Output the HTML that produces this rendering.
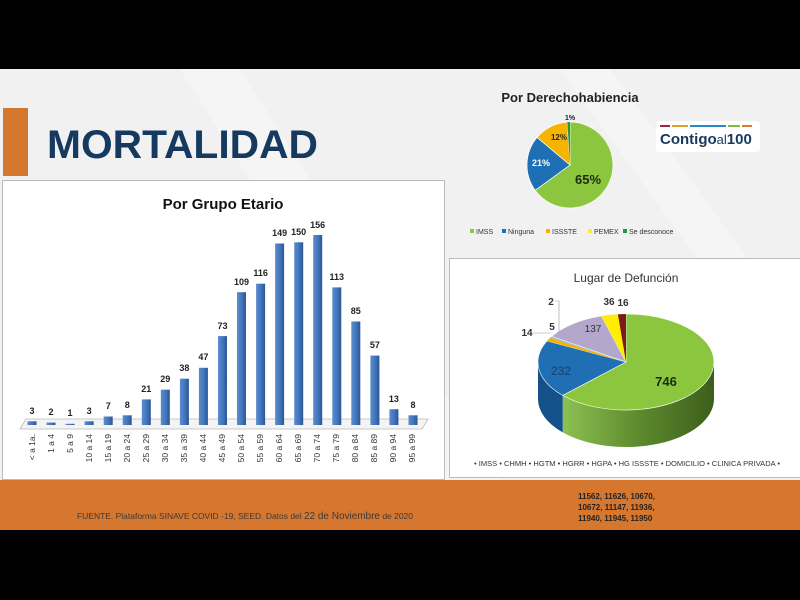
<!DOCTYPE html>
<html><head><meta charset="utf-8"><style>
html,body{margin:0;padding:0;width:800px;height:600px;overflow:hidden;background:#000;font-family:"Liberation Sans",sans-serif}
</style></head><body>
<svg width="800" height="600" xmlns="http://www.w3.org/2000/svg" font-family="Liberation Sans, sans-serif">
<defs>
<linearGradient id="bar" x1="0" x2="1"><stop offset="0" stop-color="#5a8ed0"/><stop offset="0.6" stop-color="#3f72b8"/><stop offset="1" stop-color="#2b5590"/></linearGradient>
<linearGradient id="gs" x1="0" x2="1"><stop offset="0" stop-color="#8cc152"/><stop offset="0.5" stop-color="#5e8a2e"/><stop offset="1" stop-color="#3d5e1c"/></linearGradient>
</defs>
<rect x="0" y="69" width="800" height="461" fill="#f1f1f1"/>
<polygon points="180,69 240,69 500,480 440,480" fill="#f5f5f5"/>
<polygon points="560,69 610,69 800,330 800,400" fill="#f5f5f5"/>
<!-- orange footer -->
<rect x="0" y="480" width="800" height="50" fill="#d6772f"/>
<text x="77" y="519" font-size="8.5" fill="#3a3a3a" textLength="336" lengthAdjust="spacingAndGlyphs">FUENTE. Plataforma SINAVE COVID -19, SEED. Datos del <tspan font-size="10">22 de Noviembre</tspan> de 2020</text>
<g font-size="8" font-weight="bold" fill="#222">
<text x="578" y="499">11562, 11626, 10670,</text>
<text x="578" y="510">10672, 11147, 11936,</text>
<text x="578" y="521">11940, 11945, 11950</text>
</g>
<!-- title -->
<rect x="3" y="108" width="25" height="68" fill="#d6772f"/>
<text x="47" y="158" font-size="40" font-weight="bold" fill="#15395f" textLength="271" lengthAdjust="spacingAndGlyphs">MORTALIDAD</text>
<!-- bar chart box -->
<rect x="2.5" y="180.5" width="442" height="299" fill="#fff" stroke="#bbb"/>
<text x="223" y="209" font-size="15" font-weight="bold" text-anchor="middle" fill="#111">Por Grupo Etario</text>
<polygon points="26,419 428,419 422,429 20,429" fill="#f4f4f4" stroke="#bbb" stroke-width="0.8"/>
<g fill="url(#bar)">
<rect x="27.5" y="421.3" width="9" height="3.7"/>
<rect x="46.5" y="422.6" width="9" height="2.4"/>
<rect x="65.5" y="423.8" width="9" height="1.2"/>
<rect x="84.6" y="421.3" width="9" height="3.7"/>
<rect x="103.7" y="416.5" width="9" height="8.5"/>
<rect x="122.7" y="415.3" width="9" height="9.7"/>
<rect x="141.8" y="399.4" width="9" height="25.6"/>
<rect x="160.8" y="389.7" width="9" height="35.3"/>
<rect x="179.9" y="378.7" width="9" height="46.3"/>
<rect x="198.9" y="367.8" width="9" height="57.2"/>
<rect x="218" y="336.1" width="9" height="88.9"/>
<rect x="237" y="292.2" width="9" height="132.8"/>
<rect x="256.1" y="283.7" width="9" height="141.3"/>
<rect x="275.1" y="243.5" width="9" height="181.5"/>
<rect x="294.2" y="242.3" width="9" height="182.7"/>
<rect x="313.2" y="235" width="9" height="190"/>
<rect x="332.3" y="287.4" width="9" height="137.6"/>
<rect x="351.3" y="321.5" width="9" height="103.5"/>
<rect x="370.4" y="355.6" width="9" height="69.4"/>
<rect x="389.4" y="409.2" width="9" height="15.8"/>
<rect x="408.5" y="415.3" width="9" height="9.7"/>
</g>
<g font-size="9" font-weight="bold" text-anchor="middle" fill="#222">
<text x="32" y="414">3</text><text x="51" y="415">2</text><text x="70" y="416">1</text><text x="89.1" y="414">3</text>
<text x="108.2" y="409">7</text><text x="127.2" y="408">8</text><text x="146.3" y="392">21</text><text x="165.3" y="382">29</text>
<text x="184.4" y="371">38</text><text x="203.4" y="360">47</text><text x="222.5" y="329">73</text><text x="241.5" y="285">109</text>
<text x="260.6" y="276">116</text><text x="279.6" y="236">149</text><text x="298.7" y="235">150</text><text x="317.7" y="228">156</text>
<text x="336.8" y="280">113</text><text x="355.8" y="314">85</text><text x="374.9" y="348">57</text><text x="393.9" y="402">13</text><text x="413" y="408">8</text>
</g>
<g font-size="8.5" fill="#333" text-anchor="end">
<text transform="translate(35,434) rotate(-90)">&lt; a 1a.</text>
<text transform="translate(54,434) rotate(-90)">1 a 4</text>
<text transform="translate(73,434) rotate(-90)">5 a 9</text>
<text transform="translate(92,434) rotate(-90)">10 a 14</text>
<text transform="translate(111,434) rotate(-90)">15 a 19</text>
<text transform="translate(130,434) rotate(-90)">20 a 24</text>
<text transform="translate(149,434) rotate(-90)">25 a 29</text>
<text transform="translate(168,434) rotate(-90)">30 a 34</text>
<text transform="translate(187,434) rotate(-90)">35 a 39</text>
<text transform="translate(206,434) rotate(-90)">40 a 44</text>
<text transform="translate(225,434) rotate(-90)">45 a 49</text>
<text transform="translate(244,434) rotate(-90)">50 a 54</text>
<text transform="translate(263,434) rotate(-90)">55 a 59</text>
<text transform="translate(282,434) rotate(-90)">60 a 64</text>
<text transform="translate(301,434) rotate(-90)">65 a 69</text>
<text transform="translate(320,434) rotate(-90)">70 a 74</text>
<text transform="translate(339,434) rotate(-90)">75 a 79</text>
<text transform="translate(358,434) rotate(-90)">80 a 84</text>
<text transform="translate(377,434) rotate(-90)">85 a 89</text>
<text transform="translate(396,434) rotate(-90)">90 a 94</text>
<text transform="translate(415,434) rotate(-90)">95 a 99</text>
</g>
<!-- pie 1 -->
<text x="570" y="102" font-size="13" font-weight="bold" text-anchor="middle" fill="#222">Por Derechohabiencia</text>
<path d="M570,165 L570,122 A43,43 0 1,1 535.2,190.3 Z" fill="#8cc63f" stroke="#fff" stroke-width="0.7"/>
<path d="M570,165 L535.2,190.3 A43,43 0 0,1 537.1,137.4 Z" fill="#1f6fb5" stroke="#fff" stroke-width="0.7"/>
<path d="M570,165 L537.1,137.4 A43,43 0 0,1 567.3,122.1 Z" fill="#f5b400" stroke="#fff" stroke-width="0.7"/>
<path d="M570,165 L567.3,122.1 A43,43 0 0,1 570,122 Z" fill="#1a9b4b"/>
<text x="570" y="120" font-size="7" font-weight="bold" text-anchor="middle" fill="#222">1%</text>
<text x="559" y="140" font-size="8" font-weight="bold" text-anchor="middle" fill="#222">12%</text>
<text x="541" y="166" font-size="9" font-weight="bold" text-anchor="middle" fill="#fff">21%</text>
<text x="588" y="184" font-size="13" font-weight="bold" text-anchor="middle" fill="#1d2b10">65%</text>
<g font-size="7" fill="#333">
<rect x="470" y="229" width="4" height="4" fill="#8cc63f"/><text x="476" y="234">IMSS</text>
<rect x="502" y="229" width="4" height="4" fill="#1f6fb5"/><text x="508" y="234">Ninguna</text>
<rect x="546" y="229" width="4" height="4" fill="#f5b400"/><text x="552" y="234">ISSSTE</text>
<rect x="588" y="229" width="4" height="4" fill="#f0ef3a"/><text x="594" y="234">PEMEX</text>
<rect x="623" y="229" width="4" height="4" fill="#1a9b4b"/><text x="629" y="234">Se desconoce</text>
</g>
<!-- logo -->
<rect x="656" y="121" width="104" height="31" rx="3" fill="#fff"/>
<rect x="660" y="125" width="10" height="2" fill="#a0283c"/><rect x="672" y="125" width="16" height="2" fill="#e0a028"/>
<rect x="690" y="125" width="36" height="2" fill="#2a8ac8"/><rect x="728" y="125" width="12" height="2" fill="#7fb842"/><rect x="742" y="125" width="10" height="2" fill="#e07a30"/>
<text x="660" y="144" font-size="15" font-weight="bold" fill="#15395f">Contigo<tspan font-weight="normal" font-size="13">al</tspan>100</text>
<!-- lower right -->
<rect x="449.5" y="258.5" width="352" height="219" fill="#fff" stroke="#bbb"/>
<text x="626" y="282" font-size="12" text-anchor="middle" fill="#333">Lugar de Defunción</text>
<path d="M714,362 L714,399 A88,48 0 0,1 562.7,432.4 L562.7,395.4 A88,48 0 0,0 714,362 Z" fill="url(#gs)"/>
<path d="M562.7,395.4 L562.7,432.4 A88,48 0 0,1 538,399 L538,362 A88,48 0 0,0 562.7,395.4 Z" fill="#14508a"/>
<path d="M626,362 L626,314 A88,48 0 1,1 562.7,395.4 Z" fill="#8cc63f" stroke="#fff" stroke-width="0.6"/>
<path d="M626,362 L562.7,395.4 A88,48 0 0,1 546.9,341 Z" fill="#1f6fb5" stroke="#fff" stroke-width="0.6"/>
<path d="M626,362 L546.9,341 A88,48 0 0,1 550,337.9 Z" fill="#f5b400"/>
<path d="M626,362 L550,337.9 A88,48 0 0,1 551.6,336.4 Z" fill="#9bc"/>
<path d="M626,362 L551.6,336.4 A88,48 0 0,1 601.4,315.9 Z" fill="#b4a7cc" stroke="#fff" stroke-width="0.6"/>
<path d="M626,362 L601.4,315.9 A88,48 0 0,1 617.9,314.2 Z" fill="#ffee00"/>
<path d="M626,362 L617.9,314.2 A88,48 0 0,1 626,314 Z" fill="#7b1a1a"/>
<g font-size="10" font-weight="bold" fill="#333" text-anchor="middle">
<text x="666" y="386" font-size="13" fill="#1d2b10">746</text>
<text x="561" y="375" font-weight="normal" font-size="12" fill="#1a3f66">232</text>
<text x="593" y="332" font-weight="normal" fill="#333">137</text>
<text x="527" y="336">14</text><text x="552" y="330">5</text><text x="551" y="305">2</text>
<text x="609" y="305">36</text><text x="623" y="306">16</text>
</g>
<path d="M533,333 L551,333 M555,301 L559,301 L559,333" stroke="#999" stroke-width="0.6" fill="none"/>
<text x="474" y="466" font-size="7.5" fill="#333" textLength="306" lengthAdjust="spacingAndGlyphs">• IMSS  • CHMH  • HGTM  • HGRR  • HGPA  • HG ISSSTE  • DOMICILIO  • CLINICA PRIVADA  •</text>
</svg>
</body></html>
